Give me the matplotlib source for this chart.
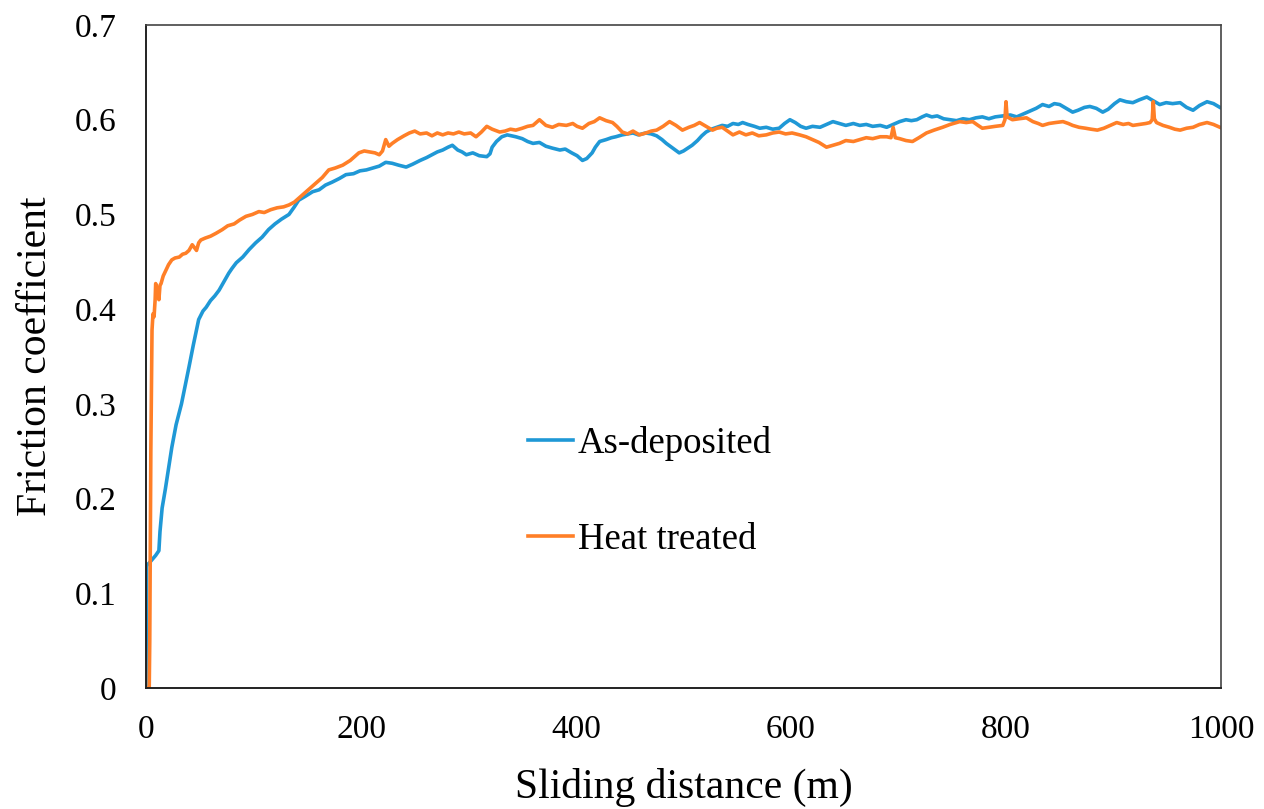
import matplotlib
matplotlib.use("Agg")
import matplotlib.pyplot as plt

plt.rcParams['font.family'] = ['Liberation Serif', 'DejaVu Serif']

# As-deposited
dist_asdep = [0, 0.5, 1, 3, 6, 9, 12, 13, 15, 18, 21, 24, 28, 33, 37, 40, 44, 49, 53, 56, 60, 64, 68, 72, 77, 80, 84, 90, 96, 102,
              108, 114, 120, 126, 133, 138, 142, 148, 155, 161, 167, 173, 180, 186, 193, 199, 205, 211, 217, 223, 229, 235, 242,
              248, 255, 261, 266, 271, 276, 281, 285, 290, 294, 298, 304, 310, 317, 320, 322, 326, 331, 336, 340, 344, 350, 355,
              360, 366, 372, 378, 385, 390, 396, 401, 406, 410, 415, 418, 422, 428, 433, 437, 443, 448, 453, 458, 465, 470, 475,
              480, 484, 490, 496, 500, 504, 508, 513, 517, 521, 526, 531, 536, 541, 546, 551, 555, 560, 566, 571, 577, 583, 589,
              594, 599, 604, 609, 614, 620, 627, 633, 639, 645, 651, 658, 664, 670, 676, 683, 689, 695, 701, 707, 712, 717, 722,
              726, 731, 736, 742, 748, 754, 760, 766, 772, 778, 784, 790, 797, 804, 810, 816, 822, 828, 834, 840, 845, 850, 856,
              862, 867, 873, 878, 884, 890, 895, 901, 906, 912, 918, 924, 931, 937, 943, 949, 955, 962, 968, 974, 980, 987, 993, 999]
mu_asdep = [0.0, 0.128, 0.130, 0.132, 0.136, 0.140, 0.145, 0.165, 0.19, 0.21, 0.232, 0.254, 0.278, 0.30, 0.322, 0.339, 0.362,
            0.389, 0.398, 0.402, 0.409, 0.414, 0.42, 0.428, 0.438, 0.443, 0.449, 0.455, 0.463, 0.470, 0.476, 0.484, 0.490,
            0.495, 0.500, 0.508, 0.515, 0.519, 0.524, 0.526, 0.531, 0.534, 0.538, 0.542, 0.543, 0.546, 0.547, 0.549, 0.551,
            0.555, 0.554, 0.552, 0.550, 0.553, 0.557, 0.560, 0.563, 0.566, 0.568, 0.571, 0.573, 0.568, 0.566, 0.563, 0.565,
            0.562, 0.561, 0.564, 0.571, 0.577, 0.582, 0.584, 0.583, 0.582, 0.580, 0.577, 0.575, 0.576, 0.572, 0.570, 0.568,
            0.569, 0.565, 0.562, 0.557, 0.559, 0.565, 0.571, 0.577, 0.579, 0.581, 0.582, 0.584, 0.585, 0.586, 0.584, 0.586,
            0.585, 0.583, 0.579, 0.575, 0.570, 0.565, 0.567, 0.570, 0.573, 0.578, 0.583, 0.587, 0.590, 0.592, 0.594, 0.593,
            0.596, 0.595, 0.597, 0.595, 0.593, 0.591, 0.592, 0.590, 0.591, 0.596, 0.600, 0.597, 0.593, 0.591, 0.593, 0.592,
            0.595, 0.598, 0.596, 0.594, 0.596, 0.594, 0.595, 0.593, 0.594, 0.592, 0.595, 0.598, 0.600, 0.599, 0.600, 0.603,
            0.605, 0.603, 0.604, 0.601, 0.600, 0.599, 0.601, 0.600, 0.602, 0.603, 0.601, 0.603, 0.604, 0.605, 0.603, 0.606,
            0.609, 0.612, 0.616, 0.614, 0.617, 0.616, 0.612, 0.608, 0.610, 0.613, 0.614, 0.612, 0.608, 0.611, 0.617, 0.621,
            0.619, 0.618, 0.621, 0.624, 0.620, 0.616, 0.618, 0.617, 0.618, 0.613, 0.610, 0.615, 0.619, 0.617, 0.613]

# Heat treated
dist_heat = [0, 3, 3.5, 4.5, 5.6, 6.5, 7.5, 8.5, 9, 10.5, 12, 13, 14, 16, 18.5, 21, 24, 27, 31, 34, 37, 40, 43, 45, 47, 49, 51,
             55, 60, 65, 71, 76, 82, 87, 93, 99, 105, 110, 116, 122, 128, 133, 138, 142, 148, 153, 158, 164, 170, 176, 183, 190,
             198, 203, 208, 213, 217, 220, 223, 226, 229, 234, 240, 245, 250, 255, 261, 266, 271, 276, 281, 286, 291, 296, 302,
             307, 312, 317, 322, 329, 334, 339, 344, 350, 355, 360, 366, 372, 378, 384, 391, 397, 401, 406, 412, 417, 422, 428,
             434, 438, 443, 448, 453, 459, 465, 470, 475, 481, 487, 493, 499, 505, 510, 515, 521, 527, 531, 536, 541, 546, 552,
             558, 564, 570, 577, 583, 589, 595, 601, 608, 614, 620, 626, 633, 639, 645, 651, 658, 664, 670, 676, 683, 689, 693,
             695, 697, 701, 707, 713, 719, 726, 733, 741, 748, 757, 763, 769, 774, 778, 784, 790, 797, 799, 800, 801, 806, 812,
             819, 825, 830, 834, 840, 846, 853, 858, 862, 868, 874, 879, 885, 891, 897, 903, 909, 914, 918, 924, 930, 934, 936,
             937, 938, 940, 946, 952, 957, 962, 968, 974, 980, 987, 993, 999]
mu_heat = [0.0, 0.0, 0.05, 0.25, 0.378, 0.395, 0.392, 0.41, 0.427, 0.42, 0.41, 0.425, 0.427, 0.435, 0.441, 0.447, 0.452, 0.454,
           0.455, 0.458, 0.459, 0.462, 0.468, 0.465, 0.462, 0.470, 0.473, 0.475, 0.477, 0.480, 0.484, 0.488, 0.490, 0.494,
           0.498, 0.500, 0.503, 0.502, 0.505, 0.507, 0.508, 0.510, 0.513, 0.517, 0.523, 0.528, 0.533, 0.539, 0.547, 0.549,
           0.552, 0.557, 0.565, 0.567, 0.566, 0.565, 0.563, 0.567, 0.579, 0.572, 0.575, 0.579, 0.583, 0.586, 0.588, 0.585,
           0.586, 0.583, 0.586, 0.584, 0.586, 0.585, 0.587, 0.585, 0.586, 0.582, 0.587, 0.593, 0.590, 0.587, 0.588, 0.590,
           0.589, 0.591, 0.593, 0.594, 0.600, 0.594, 0.592, 0.595, 0.594, 0.596, 0.593, 0.591, 0.596, 0.598, 0.602, 0.599,
           0.597, 0.593, 0.587, 0.585, 0.588, 0.584, 0.586, 0.588, 0.589, 0.593, 0.598, 0.594, 0.589, 0.592, 0.594, 0.597,
           0.593, 0.589, 0.591, 0.592, 0.588, 0.584, 0.587, 0.584, 0.586, 0.583, 0.584, 0.586, 0.587, 0.585, 0.586, 0.584,
           0.582, 0.579, 0.576, 0.571, 0.573, 0.575, 0.578, 0.577, 0.579, 0.581, 0.580, 0.582, 0.582, 0.581, 0.592, 0.581,
           0.580, 0.578, 0.577, 0.581, 0.586, 0.589, 0.592, 0.595, 0.598, 0.597, 0.598, 0.594, 0.591, 0.592, 0.593, 0.594,
           0.600, 0.619, 0.603, 0.600, 0.601, 0.602, 0.598, 0.596, 0.594, 0.596, 0.597, 0.598, 0.596, 0.594, 0.592, 0.591,
           0.590, 0.589, 0.591, 0.594, 0.597, 0.595, 0.596, 0.594, 0.595, 0.596, 0.597, 0.600, 0.619, 0.601, 0.597, 0.594,
           0.592, 0.590, 0.589, 0.591, 0.592, 0.595, 0.597, 0.595, 0.592]

series_labels = ["As-deposited", "Heat treated"]
x_ticks = [0, 200, 400, 600, 800, 1000]
y_ticks = [0, 0.1, 0.2, 0.3, 0.4, 0.5, 0.6, 0.7]
y_tick_labels = ["0", "0.1", "0.2", "0.3", "0.4", "0.5", "0.6", "0.7"]

fig = plt.figure(figsize=(12.64, 8.09), dpi=100)
ax = fig.add_axes([146/1264, 1 - 688/809, (1221-146)/1264, (688-25)/809])

l1, = ax.plot(dist_asdep, mu_asdep, color='#1f98d6', lw=2.6, label=series_labels[0])
l2, = ax.plot(dist_heat, mu_heat, color='#ff7f27', lw=2.6, label=series_labels[1])

ax.set_xlim(0, 1000)
ax.set_ylim(0, 0.7)
ax.set_xticks(x_ticks)
ax.set_xticklabels([str(t) for t in x_ticks])
ax.set_yticks(y_ticks)
ax.set_yticklabels(y_tick_labels)
ax.tick_params(axis='both', length=0, labelsize=24)
ax.tick_params(axis='x', pad=19)
ax.tick_params(axis='y', pad=21)
for s in ['left', 'bottom']:
    ax.spines[s].set_color('#222222')
    ax.spines[s].set_linewidth(1.4)
for s in ['top', 'right']:
    ax.spines[s].set_color('#444444')
    ax.spines[s].set_linewidth(1.2)

ax.set_xlabel("Sliding distance (m)", fontsize=30)
ax.set_ylabel("Friction coefficient", fontsize=30)
ax.xaxis.set_label_coords(0.5, (688 - 768) / 663)
ax.yaxis.set_label_coords((55 - 146) / 1075, 0.5)

leg = ax.legend(handles=[l1, l2], loc='upper left', bbox_to_anchor=(528/1264, 1 - 426/809),
                bbox_transform=fig.transFigure, frameon=False, fontsize=26.5,
                handlelength=1.22, handletextpad=0.13, labelspacing=1.68,
                borderpad=0, borderaxespad=0)

fig.savefig("out.png", dpi=100)
